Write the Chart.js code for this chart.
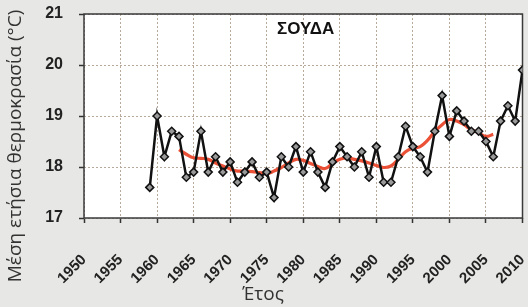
<!DOCTYPE html>
<html>
<head>
<meta charset="utf-8">
<script src="https://cdn.jsdelivr.net/npm/chart.js@4/dist/chart.umd.min.js"></script>
<style>
  html, body { margin: 0; padding: 0; background: #e7e7e5 }
  #wrap { width: 528px; height: 307px }
</style>
</head>
<body>
<div id="wrap"><canvas id="chart" width="528" height="307"></canvas></div>
<script>
const years = [
  1959, 1960, 1961, 1962, 1963, 1964, 1965, 1966, 1967, 1968, 1969, 1970, 1971,
  1972, 1973, 1974, 1975, 1976, 1977, 1978, 1979, 1980, 1981, 1982, 1983, 1984,
  1985, 1986, 1987, 1988, 1989, 1990, 1991, 1992, 1993, 1994, 1995, 1996, 1997,
  1998, 1999, 2000, 2001, 2002, 2003, 2004, 2005, 2006, 2007, 2008, 2009, 2010
]
const temps = [
  17.6, 19.0, 18.2, 18.7, 18.6, 17.8, 17.9, 18.7, 17.9, 18.2, 17.9, 18.1, 17.7,
  17.9, 18.1, 17.8, 17.9, 17.4, 18.2, 18.0, 18.4, 17.9, 18.3, 17.9, 17.6, 18.1,
  18.4, 18.2, 18.0, 18.3, 17.8, 18.4, 17.7, 17.7, 18.2, 18.8, 18.4, 18.2, 17.9,
  18.7, 19.4, 18.6, 19.1, 18.9, 18.7, 18.7, 18.5, 18.2, 18.9, 19.2, 18.9, 19.9
]
// smoothed curve (red)
const trendYears = years.slice(4, 48)
const trend = [
  18.34, 18.25, 18.18, 18.17, 18.15, 18.08, 18.02, 17.96, 17.92, 17.92, 17.91,
  17.89, 17.87, 17.92, 17.99, 18.08, 18.15, 18.13, 18.07, 18.01, 17.97, 18.07,
  18.15, 18.18, 18.15, 18.12, 18.08, 18.03, 17.99, 18.02, 18.15, 18.3, 18.37,
  18.4, 18.52, 18.7, 18.83, 18.93, 18.9, 18.83, 18.73, 18.67, 18.6, 18.64
]
const xTicks = [1950, 1955, 1960, 1965, 1970, 1975, 1980, 1985, 1990, 1995, 2000, 2005, 2010]
const yTicks = [17, 18, 19, 20, 21]

const station = 'ΣΟΥΔΑ'
const xTitle = 'Έτος'
const yTitle = 'Μέση ετήσια θερμοκρασία (°C)'

const frame = {
  id: 'frame',
  beforeDraw(chart) {
    const { ctx, chartArea: a } = chart
    ctx.save()
    ctx.fillStyle = '#ffffff'
    ctx.fillRect(a.left, a.top, a.right - a.left, a.bottom - a.top)
    ctx.restore()
  },
  beforeDatasetsDraw(chart) {
    const { ctx, chartArea: a } = chart
    ctx.save()
    ctx.strokeStyle = '#3a3a3a'
    ctx.lineWidth = 1.5
    ctx.strokeRect(a.left, a.top, a.right - a.left, a.bottom - a.top)
    ctx.restore()
  },
  afterDraw(chart) {
    const { ctx, chartArea: a } = chart
    ctx.save()
    ctx.fillStyle = '#111'
    ctx.font = 'bold 17px "Liberation Sans", Arial, sans-serif'
    ctx.textBaseline = 'middle'
    ctx.textAlign = 'left'
    ctx.fillText(station, a.left + 193, a.top + 15)

    ctx.fillStyle = '#333'
    ctx.font = '19px "Open Sans", "Noto Sans", sans-serif'
    ctx.textAlign = 'center'
    ctx.fillText(xTitle, 263, 295)

    ctx.translate(16, 146)
    ctx.rotate(-Math.PI / 2)
    ctx.fillText(yTitle, 0, 0)
    ctx.restore()
  }
}

const gridCommon = {
  color: '#b9a99b',
  lineWidth: 1,
  tickLength: 5,
  tickColor: '#333',
  tickWidth: 1.5
}

new Chart(document.getElementById('chart'), {
  type: 'line',
  data: {
    datasets: [
      {
        label: 'trend',
        data: trendYears.map((x, i) => ({ x, y: trend[i] })),
        borderColor: 'rgba(232, 66, 38, 0.92)',
        borderWidth: 3.2,
        pointRadius: 0,
        tension: 0.4,
        order: 2
      },
      {
        label: station,
        data: years.map((x, i) => ({ x, y: temps[i] })),
        borderColor: '#111',
        borderWidth: 2.5,
        pointStyle: 'rectRot',
        pointRadius: 4,
        pointBackgroundColor: '#9a9a9a',
        pointBorderColor: '#111',
        pointBorderWidth: 1.5,
        tension: 0,
        order: 1
      }
    ]
  },
  options: {
    responsive: false,
    animation: false,
    layout: { padding: { top: 14, right: 4, left: 0, bottom: 0 } },
    plugins: { legend: { display: false }, tooltip: { enabled: false } },
    scales: {
      x: {
        type: 'linear',
        min: 1950,
        max: 2010,
        afterBuildTicks: s => { s.ticks = xTicks.map(value => ({ value })) },
        afterFit: s => {
          s.height = 89
          s.paddingLeft = 0
          s.paddingRight = 0
        },
        ticks: {
          minRotation: 45,
          maxRotation: 45,
          padding: 28,
          color: '#222',
          font: { family: '"Liberation Sans", Arial, sans-serif', size: 15, weight: 'bold' },
          callback: v => String(v)
        },
        grid: gridCommon,
        border: { display: false, dash: [2, 2] }
      },
      y: {
        min: 17,
        max: 21,
        afterBuildTicks: s => { s.ticks = yTicks.map(value => ({ value })) },
        afterFit: s => {
          s.width = 84
          s.paddingTop = 0
          s.paddingBottom = 0
        },
        ticks: {
          padding: 16,
          color: '#222',
          font: { family: '"Liberation Sans", Arial, sans-serif', size: 16, weight: 'bold' },
          callback: v => String(v)
        },
        grid: gridCommon,
        border: { display: false, dash: [2, 2] }
      }
    }
  },
  plugins: [frame]
})
</script>
</body>
</html>
